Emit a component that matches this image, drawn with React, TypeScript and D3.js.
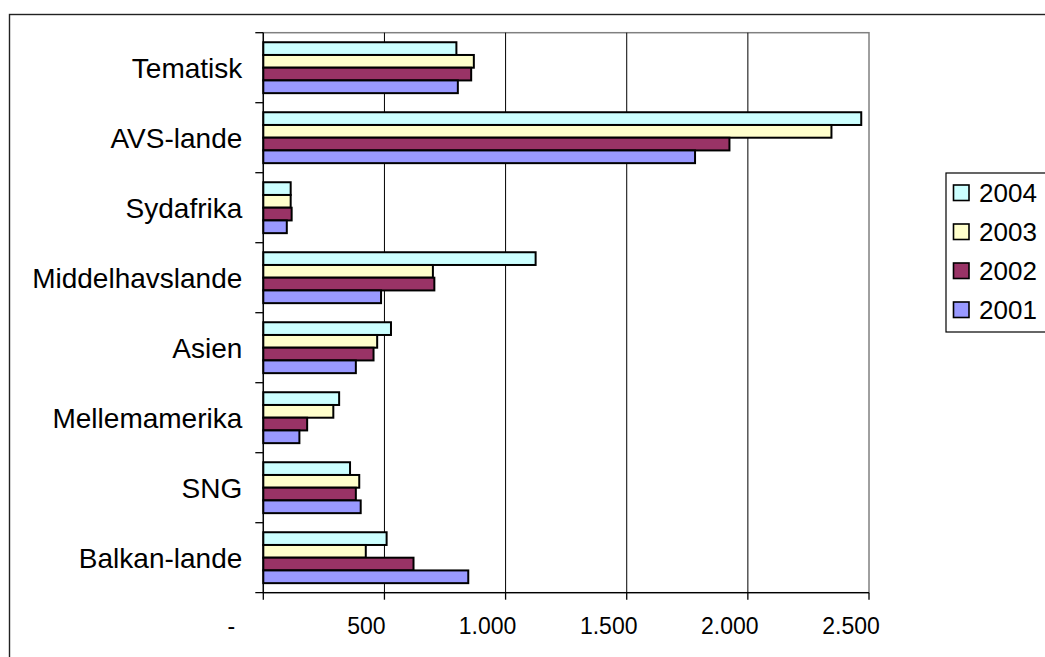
import { useEffect } from "react";
import * as d3 from "d3";

const categories = [
  "Tematisk",
  "AVS-lande",
  "Sydafrika",
  "Middelhavslande",
  "Asien",
  "Mellemamerika",
  "SNG",
  "Balkan-lande",
];

const years = ["2004", "2003", "2002", "2001"];

const values2004 = [797, 2468, 113, 1124, 527, 313, 358, 509];
const values2003 = [869, 2345, 113, 700, 470, 289, 396, 423];
const values2002 = [858, 1924, 117, 706, 455, 181, 382, 620];
const values2001 = [803, 1782, 97, 486, 382, 149, 402, 846];

const xTicks = [0, 500, 1000, 1500, 2000, 2500];

const series = [
  { year: "2004", values: values2004, color: "#ccffff" },
  { year: "2003", values: values2003, color: "#ffffcc" },
  { year: "2002", values: values2002, color: "#993366" },
  { year: "2001", values: values2001, color: "#9999ff" },
];

const font = "'Liberation Sans', Arial, sans-serif";
const locale = d3.formatLocale({
  decimal: ",",
  thousands: ".",
  grouping: [3],
  currency: ["", " kr"],
});
const fmt = locale.format(",d");

export default function App() {
  useEffect(() => {
    document.body.style.margin = "0";
  }, []);

  const width = 1045;
  const height = 657;
  const left = 263.3;
  const right = 869;
  const top = 32.7;
  const bottom = 592.7;

  const x = d3.scaleLinear().domain([0, 2500]).range([left, right]);
  const y0 = d3.scaleBand<string>().domain(categories).range([top, bottom]);
  const y1 = d3
    .scaleBand<string>()
    .domain(years)
    .range([0, y0.bandwidth()])
    .paddingInner(0)
    .paddingOuter(0.75);

  return (
    <svg
      width={width}
      height={height}
      style={{ display: "block", background: "#fff" }}
      fontFamily={font}
    >
      {/* chart border */}
      <rect
        x={9.5}
        y={14.5}
        width={width + 20}
        height={height + 20}
        fill="#fff"
        stroke="#222"
        strokeWidth={1.4}
      />

      {/* plot area border */}
      <rect
        x={left}
        y={top}
        width={right - left}
        height={bottom - top}
        fill="none"
        stroke="#808080"
        strokeWidth={1.5}
      />

      {/* gridlines */}
      {xTicks.slice(1, -1).map((t) => (
        <line
          key={t}
          x1={x(t)}
          x2={x(t)}
          y1={top}
          y2={bottom}
          stroke="#000"
          strokeWidth={1}
        />
      ))}

      {/* bars */}
      {categories.map((c, i) => (
        <g key={c} transform={`translate(0,${y0(c)})`}>
          {series.map((s) => (
            <rect
              key={s.year}
              x={x(0)}
              y={y1(s.year)}
              width={x(s.values[i]) - x(0)}
              height={y1.bandwidth()}
              fill={s.color}
              stroke="#000"
              strokeWidth={2}
            />
          ))}
        </g>
      ))}

      {/* axes */}
      <line x1={left} x2={left} y1={top} y2={bottom} stroke="#000" strokeWidth={1.3} />
      <line x1={left - 8} x2={right} y1={bottom} y2={bottom} stroke="#000" strokeWidth={1.3} />
      {categories.map((c) => (
        <line
          key={c}
          x1={left - 8}
          x2={left}
          y1={y0(c)}
          y2={y0(c)}
          stroke="#000"
          strokeWidth={1.3}
        />
      ))}
      {xTicks.map((t) => (
        <line
          key={t}
          x1={x(t)}
          x2={x(t)}
          y1={bottom}
          y2={bottom + 7}
          stroke="#000"
          strokeWidth={1.3}
        />
      ))}

      {/* category labels */}
      {categories.map((c) => (
        <text
          key={c}
          x={left - 21}
          y={(y0(c) ?? 0) + y0.bandwidth() / 2 + 10}
          textAnchor="end"
          fontSize={28}
          fill="#000"
        >
          {c}
        </text>
      ))}

      {/* value labels */}
      {xTicks.map((t) => (
        <text
          key={t}
          x={x(t) - (t === 0 ? 32 : 18)}
          y={bottom + 41}
          textAnchor="middle"
          fontSize={23}
          fill="#000"
        >
          {t === 0 ? "-" : fmt(t)}
        </text>
      ))}

      {/* legend */}
      <rect
        x={946}
        y={173}
        width={120}
        height={159}
        fill="#fff"
        stroke="#000"
        strokeWidth={1.2}
      />
      {series.map((s, i) => (
        <g key={s.year} transform={`translate(0,${193 + i * 39})`}>
          <rect
            x={953.5}
            y={-8}
            width={15.5}
            height={15.5}
            fill={s.color}
            stroke="#000"
            strokeWidth={1.6}
          />
          <text x={979} y={9} fontSize={26} fill="#000">
            {s.year}
          </text>
        </g>
      ))}
    </svg>
  );
}
